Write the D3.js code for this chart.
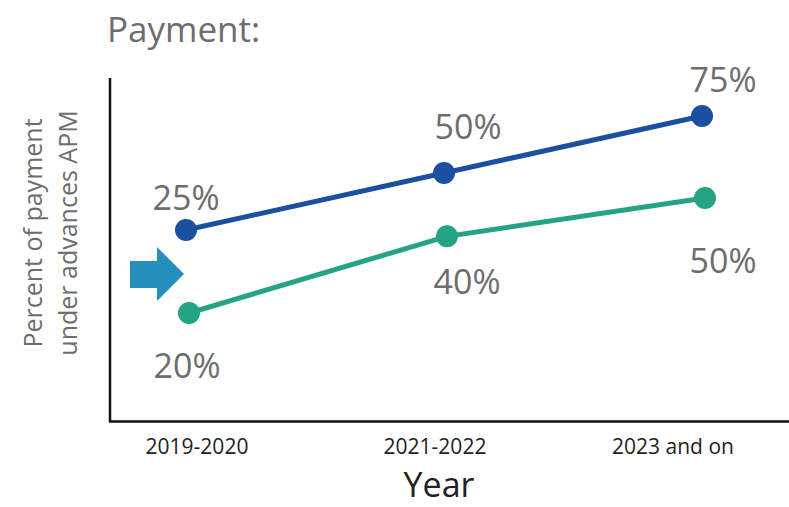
<!DOCTYPE html>
<html>
<head>
<meta charset="utf-8">
<script src="https://cdn.jsdelivr.net/npm/d3@7"></script>
<style>
  body { margin: 0; background: #fff; }
  text { font-family: "Open Sans", "Noto Sans", sans-serif; }
</style>
</head>
<body>
<div class="chart"></div>
<script>
// data
const years = ['2019-2020', '2021-2022', '2023 and on'];
const payment = [25, 50, 75];     // blue line
const population = [20, 40, 50];  // teal line

const width = 789;
const height = 507;

const svg = d3.select('.chart')
    .append('svg')
    .attr('width', width)
    .attr('height', height);

// the picture is a concept sketch: each line has its own vertical scale
const x = d3.scalePoint().domain(years).range([186, 702]);
const xLabels = d3.scalePoint().domain(years).range([197, 673]);
const yBlue = d3.scaleLinear().domain([25, 75]).range([230, 116]);
const yTeal = d3.scaleLinear().domain([20, 50]).range([313, 198]);

const series = [
    {values: payment, y: yBlue, color: '#1b4fa0', dx: 0,
     labelDx: [0, 24, 21], labelDy: [-20, -34, -24]},
    {values: population, y: yTeal, color: '#24a385', dx: 3,
     labelDx: [-2, 20, 18], labelDy: [65, 58, 75]}
];

// axes
svg.append('line')
    .attr('x1', 110).attr('x2', 110)
    .attr('y1', 78).attr('y2', 422)
    .attr('stroke', '#111').attr('stroke-width', 2.5);
svg.append('line')
    .attr('x1', 109).attr('x2', width)
    .attr('y1', 421.5).attr('y2', 421.5)
    .attr('stroke', '#111').attr('stroke-width', 2.5);

svg.append('g')
    .selectAll('text')
    .data(years)
    .enter()
    .append('text')
    .text(d=>d)
    .attr('x', d=>xLabels(d))
    .attr('y', 454)
    .attr('text-anchor', 'middle')
    .attr('font-size', 21)
    .attr('fill', '#222');

// titles
svg.append('text')
    .text('Payment:')
    .attr('x', 107).attr('y', 42)
    .attr('font-size', 35)
    .attr('fill', '#6d6d6d');

svg.append('text')
    .text('Year')
    .attr('x', 439).attr('y', 497)
    .attr('text-anchor', 'middle')
    .attr('font-size', 34)
    .attr('fill', '#222');

const yTitle = svg.append('text')
    .attr('transform', 'translate(0,233) rotate(-90)')
    .attr('text-anchor', 'middle')
    .attr('font-size', 25)
    .attr('fill', '#6d6d6d');
yTitle.append('tspan').attr('x', 0).attr('y', 42).text('Percent of payment');
yTitle.append('tspan').attr('x', 0).attr('y', 77).text('under advances APM');

// arrow
const arrow = d3.path();
arrow.moveTo(130, 261);
arrow.lineTo(157, 261);
arrow.lineTo(157, 247);
arrow.lineTo(184, 274);
arrow.lineTo(157, 301);
arrow.lineTo(157, 288);
arrow.lineTo(130, 288);
arrow.closePath();
svg.append('path')
    .attr('d', arrow.toString())
    .attr('fill', '#2590bd');

// lines, points, labels
series.forEach(s=>{
    const line = d3.line()
        .x((d, i)=>x(years[i]) + s.dx)
        .y(d=>s.y(d));

    svg.append('path')
        .datum(s.values)
        .attr('d', line)
        .attr('fill', 'none')
        .attr('stroke', s.color)
        .attr('stroke-width', 5);

    svg.append('g')
        .selectAll('circle')
        .data(s.values)
        .enter()
        .append('circle')
        .attr('cx', (d, i)=>x(years[i]) + s.dx)
        .attr('cy', d=>s.y(d))
        .attr('r', 11)
        .attr('fill', s.color);

    svg.append('g')
        .selectAll('text')
        .data(s.values)
        .enter()
        .append('text')
        .text(d=>d + '%')
        .attr('x', (d, i)=>x(years[i]) + s.dx + s.labelDx[i])
        .attr('y', (d, i)=>s.y(d) + s.labelDy[i])
        .attr('text-anchor', 'middle')
        .attr('font-size', 34)
        .attr('fill', '#6d6d6d');
});
</script>
</body>
</html>
